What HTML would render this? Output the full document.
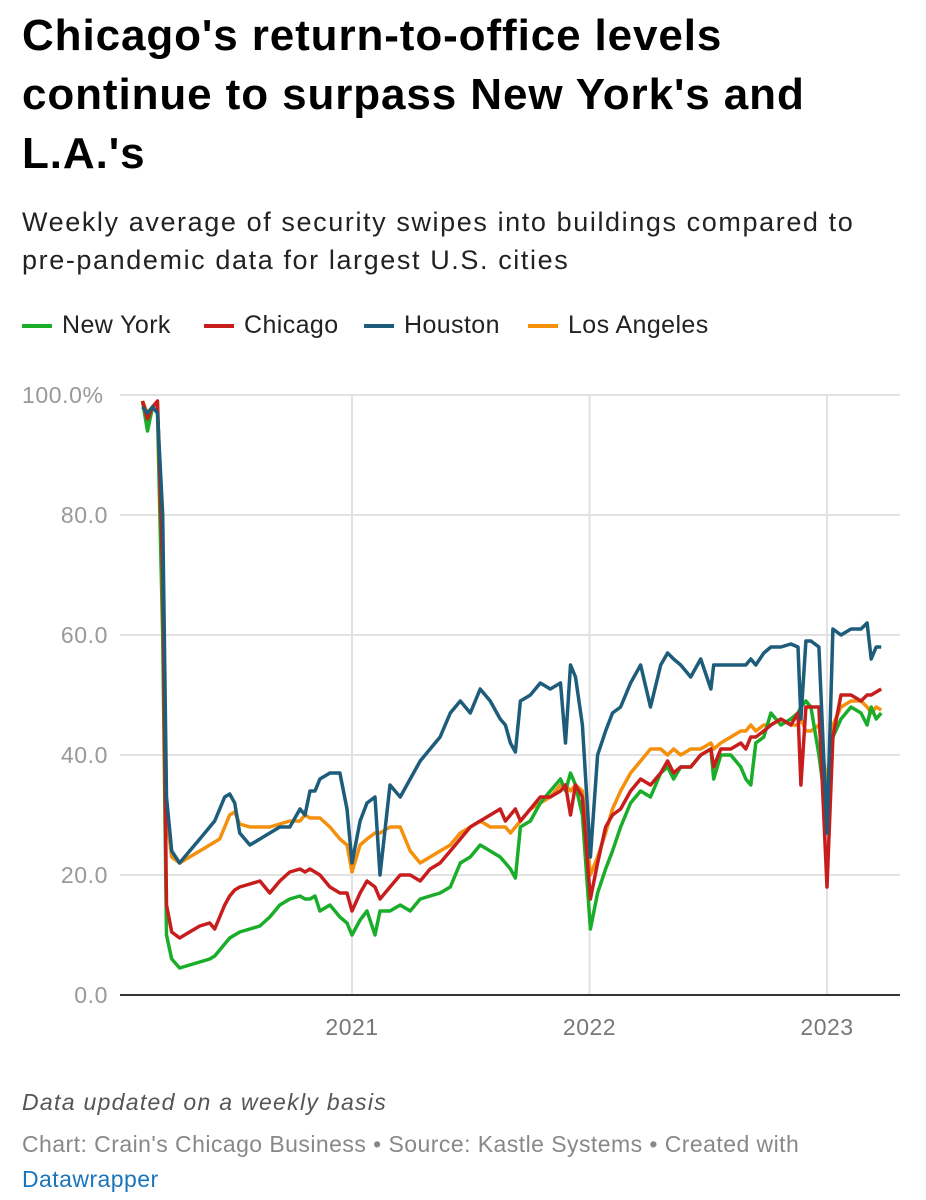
<!DOCTYPE html>
<html><head><meta charset="utf-8">
<style>
body{margin:0;width:926px;height:1200px;background:#fff;font-family:"Liberation Sans",Arial,sans-serif;overflow:hidden;position:relative}
.t{position:absolute;left:22px;top:6px;font-size:44px;font-weight:bold;line-height:59px;color:#000;letter-spacing:0.9px}
.s{position:absolute;left:22px;top:203px;font-size:27px;line-height:38px;color:#222;letter-spacing:1.6px}
.lg{position:absolute;top:311px;font-size:25px;color:#222;display:flex;align-items:center;letter-spacing:0.4px}
.lg i{display:inline-block;width:30px;height:4px;margin-right:10px}
.n{position:absolute;left:22px;top:1089px;font-size:23px;font-style:italic;color:#555;letter-spacing:1.3px}
.c{position:absolute;left:22px;top:1127px;font-size:23px;line-height:35px;color:#888;letter-spacing:0.45px}
</style></head><body>
<div class="t">Chicago's return-to-office levels<br>continue to surpass New York's and<br>L.A.'s</div>
<div class="s">Weekly average of security swipes into buildings compared to<br>pre-pandemic data for largest U.S. cities</div>
<div class="lg" style="left:22px"><i style="background:#19ad29"></i>New York</div>
<div class="lg" style="left:204px"><i style="background:#c71e1d"></i>Chicago</div>
<div class="lg" style="left:364px"><i style="background:#1d5c7a"></i>Houston</div>
<div class="lg" style="left:528px"><i style="background:#f4900b"></i>Los Angeles</div>
<svg id="ch" width="926" height="1200" style="position:absolute;left:0;top:0"></svg>
<div class="n">Data updated on a weekly basis</div>
<div class="c">Chart: Crain's Chicago Business • Source: Kastle Systems • Created with<br><span style="color:#1a75bb">Datawrapper</span></div>
<script>
const dates=[2020.118,2020.139,2020.160,2020.181,2020.203,2020.219,2020.241,2020.274,2020.316,2020.359,2020.401,2020.422,2020.443,2020.464,2020.485,2020.506,2020.527,2020.570,2020.612,2020.654,2020.696,2020.738,2020.781,2020.802,2020.823,2020.844,2020.865,2020.907,2020.949,2020.979,2021.000,2021.034,2021.063,2021.097,2021.118,2021.160,2021.203,2021.245,2021.287,2021.329,2021.371,2021.414,2021.456,2021.498,2021.540,2021.582,2021.624,2021.646,2021.667,2021.688,2021.709,2021.751,2021.793,2021.835,2021.878,2021.899,2021.920,2021.941,2021.970,2022.004,2022.034,2022.068,2022.097,2022.131,2022.173,2022.215,2022.257,2022.300,2022.329,2022.354,2022.384,2022.426,2022.468,2022.511,2022.523,2022.553,2022.595,2022.637,2022.658,2022.679,2022.700,2022.734,2022.764,2022.806,2022.848,2022.878,2022.890,2022.911,2022.932,2022.966,2023.000,2023.025,2023.059,2023.101,2023.143,2023.169,2023.186,2023.207,2023.228];
const newYork=[99,94,98,97,60,10,6,4.5,5,5.5,6,6.5,7.5,8.5,9.5,10,10.5,11,11.5,13,15,16,16.5,16,16,16.5,14,15,13,12,10,12.5,14,10,14,14,15,14,16,16.5,17,18,22,23,25,24,23,22,21,19.5,28,29,32,34,36,34,37,35,30,11,17,21,24,28,32,34,33,37,38,36,38,38,40,41,36,40,40,38,36,35,42,43,47,45,46,47,48,49,48,40,30,43,46,48,47,45,48,46,47];
const chicago=[99,96,98,99,70,15,10.5,9.5,10.5,11.5,12,11,13,15,16.5,17.5,18,18.5,19,17,19,20.5,21,20.5,21,20.5,20,18,17,17,14,17,19,18,16,18,20,20,19,21,22,24,26,28,29,30,31,29,30,31,29,31,33,33,34,35,30,35,33,16,22,28,30,31,34,36,35,37,39,37,38,38,40,41,38,41,41,42,41,43,43,44,45,46,45,47,35,48,48,48,18,43,50,50,49,50,50,50.5,51];
const houston=[98,97,98,97,80,33,24,22,24,26,28,29,31,33,33.5,32,27,25,26,27,28,28,31,30,34,34,36,37,37,31,22,29,32,33,20,35,33,36,39,41,43,47,49,47,51,49,46,45,42,40.5,49,50,52,51,52,42,55,53,45,23,40,44,47,48,52,55,48,55,57,56,55,53,56,51,55,55,55,55,55,56,55,57,58,58,58.5,58,46,59,59,58,27,61,60,61,61,62,56,58,58];
const losAngeles=[99,97,98,98,75,30,23,22,23,24,25,25.5,26,28,30,30.5,28.5,28,28,28,28.5,29,29,30,29.5,29.5,29.5,28,26,25,20.5,25,26,27,27,28,28,24,22,23,24,25,27,28,29,28,28,28,27,28,29,31,32,33,35,35,34,35,34,20,23,27,31,34,37,39,41,41,40,41,40,41,41,42,41,42,43,44,44,45,44,45,45,46,45,45,46,44,44,45,35,45,48,49,49,48,47,48,47.5];
const yTicks=[0,20,40,60,80,100];
const yLabels=["0.0","20.0","40.0","60.0","80.0","100.0%"];
const xTicks=[2021,2022,2023];
const xLabels=["2021","2022","2023"];
const NS="http://www.w3.org/2000/svg";
const svg=document.getElementById('ch');
const X=d=>352+(d-2021)*237.5;
const Y=v=>995-v*6;
function mk(t,a){const e=document.createElementNS(NS,t);for(const k in a)e.setAttribute(k,a[k]);svg.appendChild(e);return e;}
yTicks.forEach((v,i)=>{
  if(v>0){const g=mk('line',{x1:120,x2:900,y1:Y(v),y2:Y(v),stroke:'#e2e2e2','stroke-width':2});
  
  }
  const t=mk('text',{x:108,y:Y(v)+8,'text-anchor':'end','font-size':23,'letter-spacing':0.6,fill:'#999','font-family':'Liberation Sans, sans-serif'});
  t.textContent=yLabels[i];
  
  
  if(i==5){t.setAttribute('text-anchor','start');t.setAttribute('x',22);}
});
xTicks.forEach((d,i)=>{
  const g=mk('line',{x1:X(d),x2:X(d),y1:395,y2:995,stroke:'#e2e2e2','stroke-width':2});
  
  
  const t=mk('text',{x:X(d),y:1035,'text-anchor':'middle','font-size':23,'letter-spacing':0.5,fill:'#777','font-family':'Liberation Sans, sans-serif'});
  t.textContent=xLabels[i];
  
  
});
const base=mk('line',{x1:120,x2:900,y1:995,y2:995,stroke:'#333','stroke-width':2});


[[losAngeles,'#f4900b','series-los-angeles'],[newYork,'#19ad29','series-new-york'],[chicago,'#c71e1d','series-chicago'],[houston,'#1d5c7a','series-houston']].forEach(([s,c,n])=>{
  const p=mk('path',{d:s.map((v,i)=>(i?'L':'M')+X(dates[i]).toFixed(1)+','+Y(v).toFixed(1)).join(''),fill:'none',stroke:c,'stroke-width':3.5,'stroke-linejoin':'round'});
  
  
});
</script>
</body></html>
